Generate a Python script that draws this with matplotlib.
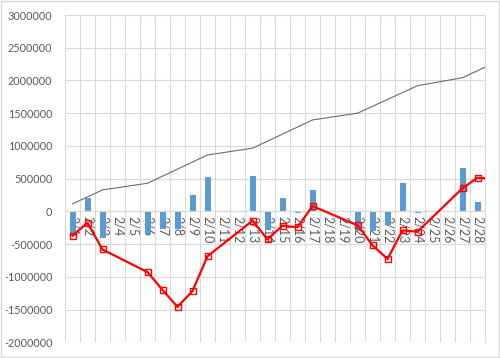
import matplotlib.pyplot as plt
from matplotlib.patches import Rectangle
import numpy as np

plt.rcParams['font.family'] = ['Lato', 'DejaVu Sans']

# categories 2/1 .. 2/28
days = list(range(1, 29))
labels = [f'2/{d}' for d in days]

# daily bars (trading days only)
bar_days = [1, 2, 3, 6, 7, 8, 9, 10, 13, 14, 15, 16, 17, 20, 21, 22, 23, 24, 27, 28]
bar_vals = [-370000, 200000, -410000, -350000, -270000, -265000, 245000, 525000,
            540000, -285000, 205000, -25000, 320000, -295000, -305000, -210000,
            435000, -20000, 665000, 150000]

# red line (running total), last point falls on 3/1 outside the axis
red_days = bar_days + [29]
red_vals = [-370000, -175000, -582000, -928000, -1198000, -1460000, -1216000, -685000,
            -142000, -427000, -218000, -243000, 82000, -213000, -518000, -727000,
            -290000, -310000, 353000, 515000, 495000]

# gray line, weekly-ish points, last one on 3/3
gray_days = [1, 3, 6, 10, 13, 17, 20, 24, 27, 31]
gray_vals = [115000, 328000, 430000, 862000, 965000, 1397000, 1500000, 1920000, 2042000, 2470000]

fig = plt.figure(figsize=(5, 3.58), dpi=100)
ax = fig.add_axes([0.13, 0.0438, 0.84, 0.9143])

ax.bar(bar_days, bar_vals, width=0.4, color='#5b9bd5', zorder=2)
ax.plot(gray_days, gray_vals, color='#6b6b6b', lw=0.8, zorder=3)
ax.plot(red_days, red_vals, color='#ff0000', lw=1.6, marker='s', markersize=5,
        markerfacecolor='none', markeredgecolor='#ff0000', markeredgewidth=1, zorder=4)

ax.set_xlim(0.5, 28.5)
ax.set_ylim(-2000000, 3000000)
yt = np.arange(-2000000, 3000001, 500000)
ax.set_yticks(yt)
ax.set_yticklabels([str(int(v)) for v in yt])

ax.set_xticks(days)
ax.set_xticklabels(labels)
ax.set_xticks(np.arange(0.5, 29, 1), minor=True)
ax.tick_params(axis='x', which='both', length=0, pad=3, labelsize=9,
               colors='#595959', labelrotation=270)
ax.tick_params(axis='y', length=0, pad=9, labelsize=7.8, colors='#595959')
for t in ax.get_xticklabels():
    t.set_va('top')
    t.set_ha('center')

ax.grid(True, axis='y', which='major', color='#d9d9d9', lw=0.8, zorder=0)
ax.grid(True, axis='x', which='minor', color='#d9d9d9', lw=0.8, zorder=0)
ax.set_axisbelow(True)

for s in ['top', 'left']:
    ax.spines[s].set_visible(False)
ax.spines['right'].set_color('#d9d9d9')
ax.spines['right'].set_linewidth(0.8)
ax.spines['bottom'].set_position(('data', 0))
ax.spines['bottom'].set_color('#d9d9d9')
ax.spines['bottom'].set_linewidth(0.8)

fig.patches.append(Rectangle((0.002, 0.003), 0.996, 0.994, transform=fig.transFigure,
                             fill=False, edgecolor='#d9d9d9', lw=1))

fig.savefig('out.png', dpi=100)
